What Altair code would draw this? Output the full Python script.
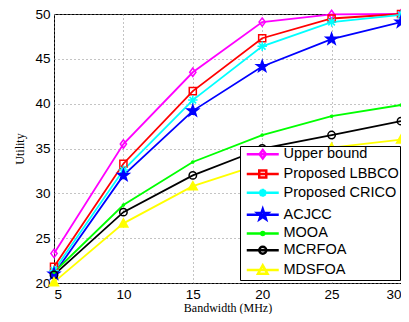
import math
import altair as alt
import pandas as pd

bandwidth = [5, 10, 15, 20, 25, 30]
series_names = ["Upper bound", "Proposed LBBCO", "Proposed CRICO", "ACJCC", "MOOA", "MCRFOA", "MDSFOA"]
upper_bound = [23.3, 35.5, 43.5, 49.1, 49.95, 50.0]
lbbco = [21.8, 33.3, 41.4, 47.3, 49.5, 50.0]
crico = [21.4, 32.6, 40.4, 46.4, 49.1, 49.9]
acjcc = [21.0, 32.0, 39.2, 44.15, 47.2, 49.1]
mooa = [21.2, 28.7, 33.5, 36.5, 38.6, 39.85]
mcrfoa = [20.9, 27.9, 32.0, 35.0, 36.5, 38.05]
mdsfoa = [20.1, 26.65, 30.8, 33.3, 35.1, 36.0]
series_values = [upper_bound, lbbco, crico, acjcc, mooa, mcrfoa, mdsfoa]

colors = ["#ff00ff", "#ff0000", "#00ffff", "#0000ff", "#00ff00", "#000000", "#ffff00"]
fills = ["transparent", "transparent", "#00ffff", "#0000ff", "#00ff00", "transparent", "#ffff00"]
sizes = [70, 50, 90, 140, 4, 55, 80]

rows = []
for name, vals in zip(series_names, series_values):
    for b, v in zip(bandwidth, vals):
        rows.append({"Bandwidth": b, "Utility": v, "Series": name})
df = pd.DataFrame(rows)


def f(v):
    return f"{v:.3f}"


def diamond(s, cx=0.0):
    return f"M{f(cx)},{f(-s)}L{f(cx + s * 0.75)},0L{f(cx)},{f(s)}L{f(cx - s * 0.75)},0Z"


def square(s, cx=0.0):
    return f"M{f(cx - s)},{f(-s)}L{f(cx + s)},{f(-s)}L{f(cx + s)},{f(s)}L{f(cx - s)},{f(s)}Z"


def asterisk(s, cx=0.0):
    d = s * 0.7
    return (f"M{f(cx - s)},0L{f(cx + s)},0M{f(cx)},{f(-s)}L{f(cx)},{f(s)}"
            f"M{f(cx - d)},{f(-d)}L{f(cx + d)},{f(d)}M{f(cx - d)},{f(d)}L{f(cx + d)},{f(-d)}")


def circle(s, cx=0.0):
    return f"M{f(cx - s)},0A{f(s)},{f(s)} 0 1,0 {f(cx + s)},0A{f(s)},{f(s)} 0 1,0 {f(cx - s)},0Z"


def triangle(s, cx=0.0):
    return f"M{f(cx)},{f(-s)}L{f(cx + s)},{f(s * 0.8)}L{f(cx - s)},{f(s * 0.8)}Z"


def pent(s, cx=0.0):
    pts = []
    for k in range(10):
        r = s if k % 2 == 0 else s * 0.4
        a = math.radians(-90 + 36.0 * k)
        pts.append(f"{f(cx + r * math.cos(a))},{f(r * math.sin(a))}")
    return "M" + "L".join(pts) + "Z"


marker_fns = [diamond, square, asterisk, pent, circle, circle, triangle]
marker_paths = [fn(1) for fn in marker_fns]
# legend symbols: size 100 -> 1 unit = 5px; line + marker
legend_scale = [0.85, 0.7, 0.8, 1.1, 0.3, 0.7, 0.95]
legend_paths = ["M-0.3,0L6.1,0" + fn(s, 2.9) for fn, s in zip(marker_fns, legend_scale)]

x_enc = alt.X("Bandwidth:Q", scale=alt.Scale(domain=[5, 30], nice=False, zero=False),
              axis=alt.Axis(values=bandwidth, title="Bandwidth (MHz)"))
y_enc = alt.Y("Utility:Q", scale=alt.Scale(domain=[20, 50], nice=False, zero=False),
              axis=alt.Axis(values=[20, 25, 30, 35, 40, 45, 50], title="Utility"))

base = alt.Chart(df)

layers = []
for i, name in enumerate(series_names):
    sub = base.transform_filter(alt.datum.Series == name)
    layers.append(sub.mark_line(strokeWidth=1.8, color=colors[i]).encode(x=x_enc, y=y_enc))
for i, name in enumerate(series_names):
    sub = base.transform_filter(alt.datum.Series == name)
    layers.append(
        sub.mark_point(shape=marker_paths[i], size=sizes[i], stroke=colors[i], fill=fills[i],
                       strokeWidth=1.5, opacity=1).encode(x=x_enc, y=y_enc)
    )

legend_kw = dict(title=None, orient="none", legendX=186, legendY=132,
                 symbolSize=100, symbolStrokeWidth=2.5, symbolOpacity=1,
                 labelFontSize=14.5, labelFont="Liberation Sans", labelColor="black",
                 labelOffset=28, rowPadding=0.8, padding=1,
                 strokeColor="black", fillColor="white", labelLimit=220)

legend_layer = base.transform_filter(alt.datum.Bandwidth == 5).mark_point(
    filled=False, strokeWidth=2.5, opacity=0
).encode(
    x=x_enc, y=y_enc,
    color=alt.Color("Series:N", scale=alt.Scale(domain=series_names, range=colors),
                    legend=alt.Legend(**legend_kw)),
    shape=alt.Shape("Series:N", scale=alt.Scale(domain=series_names, range=legend_paths),
                    legend=alt.Legend(**legend_kw)),
)
layers.append(legend_layer)

chart = alt.layer(*layers).properties(
    width=347, height=269,
    autosize=alt.AutoSizeParams(type="none"),
    padding={"left": 46, "top": 6, "right": 0, "bottom": 31},
).configure_view(stroke="black", strokeWidth=1).configure_axis(
    grid=True, gridColor="#888888", gridDash=[1, 3], gridWidth=1,
    domain=False, ticks=False,
    labelFont="Liberation Sans", labelFontSize=13.5, labelColor="black",
    titleFont="Liberation Serif", titleFontSize=12, titleFontWeight="normal", titleColor="black",
).configure_axisX(labelPadding=4, titlePadding=2).configure_axisY(labelPadding=4, titlePadding=8)

chart.save("out.html", embed_options={"renderer": "svg", "actions": False})
